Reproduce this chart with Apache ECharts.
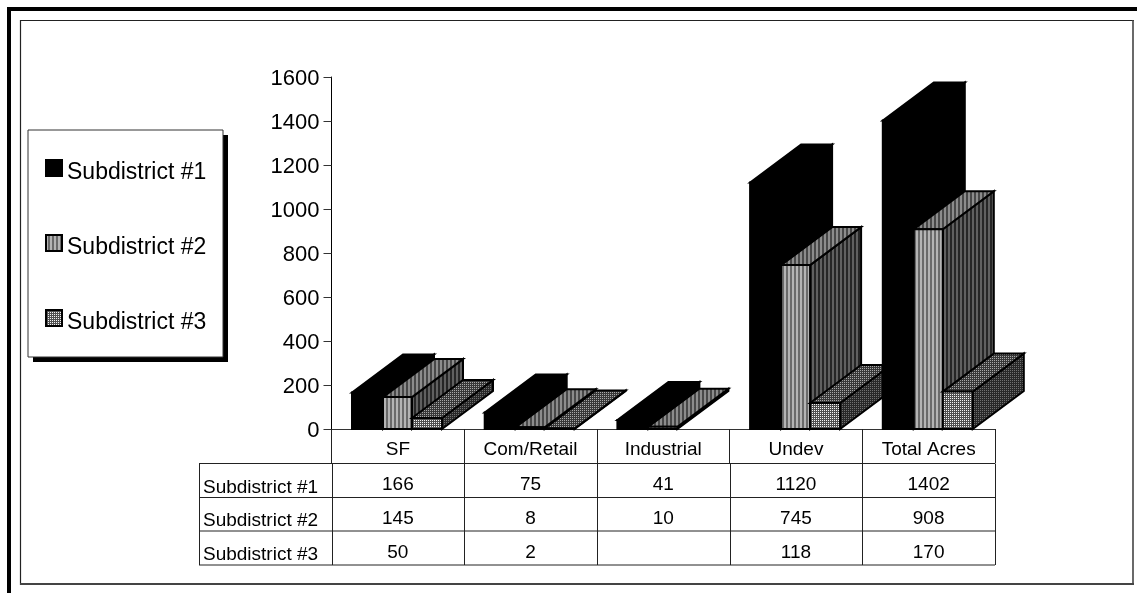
<!DOCTYPE html>
<html><head><meta charset="utf-8">
<style>html,body{margin:0;padding:0;background:#fff}#c{width:1137px;height:593px}</style>
<script src="https://cdn.jsdelivr.net/npm/echarts@6/dist/echarts.min.js"></script>
</head><body><div id="c"></div>
<script>
var categories = ['SF', 'Com/Retail', 'Industrial', 'Undev', 'Total Acres'];
var seriesNames = ['Subdistrict #1', 'Subdistrict #2', 'Subdistrict #3'];
var sub1 = [166, 75, 41, 1120, 1402];
var sub2 = [145, 8, 10, 745, 908];
var sub3 = [50, 2, null, 118, 170];
var yTicks = { min: 0, max: 1600, interval: 200 };

var FONT = '"Liberation Sans", Arial, sans-serif';
var gridL = 331.5, gridR = 995, gridT = 77, gridB = 429;
var bandW = (gridR - gridL) / categories.length;
var depthX = 51, depthY = 38;
var barOff = [20.5, 51.5, 80.5], barW = [31, 29, 30];

function tile(size, paint) {
  var c = document.createElement('canvas');
  c.width = c.height = size;
  var g = c.getContext('2d');
  paint(g);
  return { image: c, repeat: 'repeat' };
}
function stripes(a, b) {
  return tile(4, function (g) {
    g.fillStyle = a; g.fillRect(0, 0, 4, 4);
    g.fillStyle = b; g.fillRect(0, 0, 2, 4);
  });
}
function dots(bg, fg) {
  return tile(4, function (g) {
    g.fillStyle = bg; g.fillRect(0, 0, 4, 4);
    g.fillStyle = fg; g.fillRect(0, 0, 1, 1); g.fillRect(2, 2, 1, 1); g.fillRect(2, 0, 1, 1); g.fillRect(0, 2, 1, 1);
  });
}
var faces = [
  { front: '#000', top: '#000', side: '#000' },
  { front: stripes('#6a6a6a', '#b4b4b4'), top: stripes('#484848', '#8c8c8c'), side: stripes('#262626', '#606060') },
  { front: dots('#505050', '#f4f4f4'), top: dots('#383838', '#a8a8a8'), side: dots('#282828', '#707070') }
];

function renderBar(params, api) {
  var s = params.seriesIndex, i = api.value(0), v = api.value(1);
  if (v == null || isNaN(v)) return null;
  var base = api.coord([i, 0]), top = api.coord([i, v]);
  var band = api.size([1, 0])[0];
  var x0 = base[0] - band / 2 + barOff[s], x1 = x0 + barW[s];
  var y0 = base[1], y1 = top[1];
  function face(points, fill, z) {
    return { type: 'polygon', shape: { points: points }, z2: i * 10 + s * 3 + z,
      style: { fill: fill, stroke: '#000', lineWidth: 2, lineJoin: 'miter' } };
  }
  return { type: 'group', children: [
    face([[x1, y0], [x1 + depthX, y0 - depthY], [x1 + depthX, y1 - depthY], [x1, y1]], faces[s].side, 0),
    face([[x0, y1], [x0 + depthX, y1 - depthY], [x1 + depthX, y1 - depthY], [x1, y1]], faces[s].top, 1),
    face([[x0, y0], [x1, y0], [x1, y1], [x0, y1]], faces[s].front, 2)
  ]};
}

function line(x1, y1, x2, y2, color, w) {
  return { type: 'line', silent: true, z: 1,
    shape: { x1: x1, y1: y1, x2: x2, y2: y2 }, style: { stroke: color, lineWidth: w } };
}
function text(x, y, str, align) {
  return { type: 'text', silent: true, z: 2, x: x, y: y,
    style: { text: str, font: '19px ' + FONT, fill: '#000', textAlign: align, textVerticalAlign: 'middle' } };
}

var rowY = [463.5, 497.5, 531, 565];
var graphics = [
  line(9, 7, 9, 593, '#000', 4), line(7, 9, 1137, 9, '#000', 4),
  line(20.5, 20, 20.5, 585, '#222', 1.2), line(20, 20.5, 1134, 20.5, '#222', 1.2),
  line(1133, 20, 1133, 585, '#444', 1.6), line(20, 584, 1134, 584, '#444', 2),
  { type: 'rect', silent: true, z: 1, shape: { x: 33, y: 135, width: 195, height: 227 }, style: { fill: '#000' } },
  { type: 'rect', silent: true, z: 1, shape: { x: 28, y: 130, width: 195, height: 227 }, style: { fill: '#fff', stroke: '#333', lineWidth: 1 } }
];
rowY.forEach(function (y) { graphics.push(line(199, y, gridR, y, '#222', 1)); });
graphics.push(line(199.5, rowY[0], 199.5, rowY[3], '#222', 1));
for (var k = 0; k <= categories.length; k++) {
  var lx = Math.round(gridL + k * bandW) + 0.5;
  graphics.push(line(lx, rowY[0], lx, rowY[3], '#222', 1));
}
[sub1, sub2, sub3].forEach(function (vals, r) {
  var cy = (rowY[r] + rowY[r + 1]) / 2;
  graphics.push(text(203, cy + 7, seriesNames[r], 'left'));
  vals.forEach(function (v, c) {
    if (v != null) graphics.push(text(gridL + (c + 0.5) * bandW, cy + 4.5, String(v), 'center'));
  });
});

var chart = echarts.init(document.getElementById('c'), null, { renderer: 'canvas' });
chart.setOption({
  animation: false,
  backgroundColor: '#fff',
  grid: { left: gridL, width: gridR - gridL, top: gridT, height: gridB - gridT, containLabel: false },
  xAxis: {
    type: 'category', data: categories,
    axisLine: { lineStyle: { color: '#333', width: 1 } },
    axisTick: { show: true, length: 34, alignWithLabel: false, lineStyle: { color: '#222' } },
    axisLabel: { color: '#000', fontFamily: FONT, fontSize: 19, margin: 11, interval: 0 }
  },
  yAxis: {
    type: 'value', min: yTicks.min, max: yTicks.max, interval: yTicks.interval,
    splitLine: { show: false },
    axisLine: { show: true, lineStyle: { color: '#000', width: 1 } },
    axisTick: { show: true, length: 8, lineStyle: { color: '#333' } },
    axisLabel: { color: '#000', fontFamily: FONT, fontSize: 22, margin: 12,
      formatter: function (v) { return '{a|' + v + '}'; },
      rich: { a: { color: '#000', fontFamily: FONT, fontSize: 22, padding: [3, 0, 0, 0] } } }
  },
  legend: {
    orient: 'vertical', left: 28, top: 130, data: seriesNames,
    padding: [29, 16, 20, 17], itemGap: 49.5, itemWidth: 16, itemHeight: 16, icon: 'rect',
    itemStyle: { borderColor: '#000', borderWidth: 2 },
    formatter: function (name) { return '{a|' + name + '}'; },
    textStyle: { color: '#000', fontFamily: FONT, fontSize: 23,
      rich: { a: { color: '#000', fontFamily: FONT, fontSize: 23, padding: [10, 0, 0, 0] } } }
  },
  series: [sub1, sub2, sub3].map(function (vals, s) {
    return {
      type: 'custom', name: seriesNames[s], renderItem: renderBar, clip: false,
      coordinateSystem: 'cartesian2d',
      itemStyle: { color: faces[s].front },
      encode: { x: 0, y: 1 },
      data: vals.map(function (v, i) { return [i, v]; })
    };
  }),
  graphic: { elements: graphics }
});
</script></body></html>
